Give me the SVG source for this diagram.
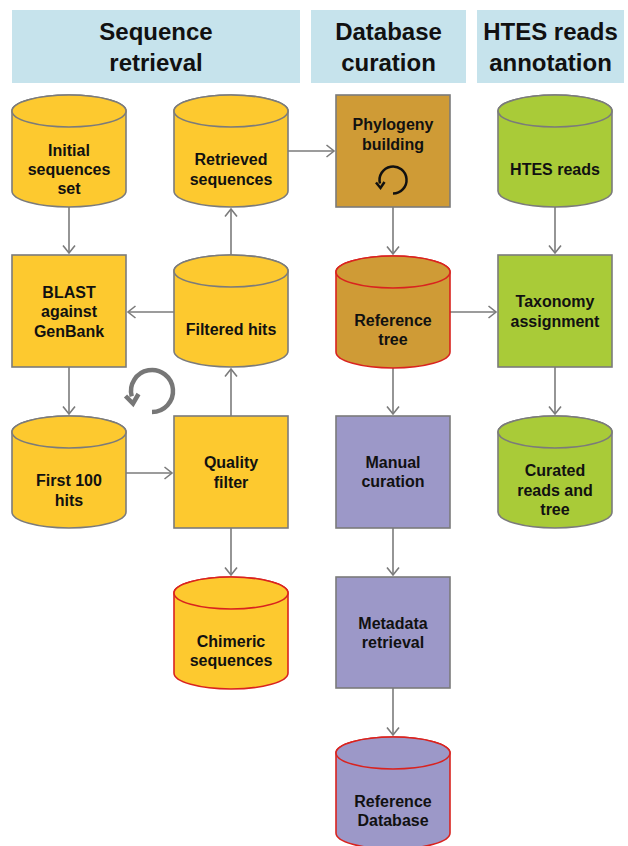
<svg xmlns="http://www.w3.org/2000/svg" width="628" height="846" viewBox="0 0 628 846">
<style>
  .hdr{fill:#c6e3ec}
  .htxt{font-family:"Liberation Sans",Arial,Helvetica,sans-serif;font-weight:bold;font-size:24px;fill:#111;text-anchor:middle}
  .t{font-family:"Liberation Sans",Arial,Helvetica,sans-serif;font-weight:bold;font-size:16px;fill:#111;text-anchor:middle}
  .yel{fill:#fdc92f}
  .brn{fill:#cf9b36}
  .pur{fill:#9c98c8}
  .grn{fill:#a9cb38}
  .sg{stroke:#7b7b7b;stroke-width:1.6}
  .sr{stroke:#d9231f;stroke-width:1.6}
  .conn{stroke:#7b7b7b;stroke-width:1.6;fill:none}
</style>
<defs>
  <marker id="ah" markerUnits="userSpaceOnUse" markerWidth="11" markerHeight="14" viewBox="0 0 11 14" refX="9" refY="7" orient="auto">
    <path d="M1.5,1 L9,7 L1.5,13" fill="none" stroke="#7b7b7b" stroke-width="1.6"/>
  </marker>
  <path id="cylBody" d="M0,16 V96 A57,16 0 0 0 114,96 V16 A57,16 0 0 0 0,16 Z"/>
</defs>

<g id="header-sequence-retrieval">
  <rect class="hdr" x="12" y="10" width="288" height="73"/>
  <text class="htxt" x="156" y="40">Sequence</text>
  <text class="htxt" x="156" y="71">retrieval</text>
</g>
<g id="header-database-curation">
  <rect class="hdr" x="311" y="10" width="155" height="73"/>
  <text class="htxt" x="388.5" y="40">Database</text>
  <text class="htxt" x="388.5" y="71">curation</text>
</g>
<g id="header-htes">
  <rect class="hdr" x="477" y="10" width="147" height="73"/>
  <text class="htxt" x="550.5" y="40">HTES reads</text>
  <text class="htxt" x="550.5" y="71">annotation</text>
</g>

<g id="connectors">
  <line class="conn" x1="69" y1="207" x2="69" y2="253" marker-end="url(#ah)"/>
  <line class="conn" x1="69" y1="367" x2="69" y2="414" marker-end="url(#ah)"/>
  <line class="conn" x1="126" y1="473" x2="172" y2="473" marker-end="url(#ah)"/>
  <line class="conn" x1="231" y1="416" x2="231" y2="369" marker-end="url(#ah)"/>
  <line class="conn" x1="174" y1="312" x2="128" y2="312" marker-end="url(#ah)"/>
  <line class="conn" x1="231" y1="255" x2="231" y2="209" marker-end="url(#ah)"/>
  <line class="conn" x1="288" y1="151" x2="334" y2="151" marker-end="url(#ah)"/>
  <line class="conn" x1="393" y1="207" x2="393" y2="254" marker-end="url(#ah)"/>
  <line class="conn" x1="450" y1="312" x2="496" y2="312" marker-end="url(#ah)"/>
  <line class="conn" x1="393" y1="368" x2="393" y2="414" marker-end="url(#ah)"/>
  <line class="conn" x1="393" y1="528" x2="393" y2="575" marker-end="url(#ah)"/>
  <line class="conn" x1="393" y1="688" x2="393" y2="735" marker-end="url(#ah)"/>
  <line class="conn" x1="555" y1="207" x2="555" y2="253" marker-end="url(#ah)"/>
  <line class="conn" x1="555" y1="367" x2="555" y2="414" marker-end="url(#ah)"/>
  <line class="conn" x1="231" y1="528" x2="231" y2="575" marker-end="url(#ah)"/>
</g>

<g id="loop-icon">
  <path d="M152,412 A21,21 0 1 0 131.7,396.4" fill="none" stroke="#777" stroke-width="4.5"/>
  <path d="M125.5,396 L133,403.5 L138.5,394" fill="none" stroke="#777" stroke-width="4.5" stroke-linejoin="miter"/>
</g>

<g id="initial-sequences-set" transform="translate(12,95)">
  <use href="#cylBody" class="yel sg"/>
  <ellipse cx="57" cy="16" rx="57" ry="16" class="yel sg"/>
  <text class="t" x="57" y="61">Initial</text>
  <text class="t" x="57" y="80">sequences</text>
  <text class="t" x="57" y="99">set</text>
</g>

<g id="retrieved-sequences" transform="translate(174,95)">
  <use href="#cylBody" class="yel sg"/>
  <ellipse cx="57" cy="16" rx="57" ry="16" class="yel sg"/>
  <text class="t" x="57" y="70">Retrieved</text>
  <text class="t" x="57" y="89.5">sequences</text>
</g>

<g id="blast" transform="translate(12,255)">
  <rect width="114" height="112" class="yel sg"/>
  <text class="t" x="57" y="42.5">BLAST</text>
  <text class="t" x="57" y="62">against</text>
  <text class="t" x="57" y="81.5">GenBank</text>
</g>

<g id="filtered-hits" transform="translate(174,255)">
  <use href="#cylBody" class="yel sg"/>
  <ellipse cx="57" cy="16" rx="57" ry="16" class="yel sg"/>
  <text class="t" x="57" y="79.5">Filtered hits</text>
</g>

<g id="first-100-hits" transform="translate(12,416)">
  <use href="#cylBody" class="yel sg"/>
  <ellipse cx="57" cy="16" rx="57" ry="16" class="yel sg"/>
  <text class="t" x="57" y="70">First 100</text>
  <text class="t" x="57" y="89.5">hits</text>
</g>

<g id="quality-filter" transform="translate(174,416)">
  <rect width="114" height="112" class="yel sg"/>
  <text class="t" x="57" y="52">Quality</text>
  <text class="t" x="57" y="71.5">filter</text>
</g>

<g id="chimeric-sequences" transform="translate(174,577)">
  <use href="#cylBody" class="yel sr"/>
  <ellipse cx="57" cy="16" rx="57" ry="16" class="yel sr"/>
  <text class="t" x="57" y="69.5">Chimeric</text>
  <text class="t" x="57" y="89">sequences</text>
</g>

<g id="phylogeny-building" transform="translate(336,95)">
  <rect width="114" height="112" class="brn sg"/>
  <text class="t" x="57" y="35">Phylogeny</text>
  <text class="t" x="57" y="54.5">building</text>
  <path d="M57,98.5 A13.5,13.5 0 1 0 44,88.5" fill="none" stroke="#111" stroke-width="2.5"/>
  <path d="M40,87.5 L44.5,93 L48.5,87" fill="none" stroke="#111" stroke-width="2.5"/>
</g>

<g id="reference-tree" transform="translate(336,256)">
  <use href="#cylBody" class="brn sr"/>
  <ellipse cx="57" cy="16" rx="57" ry="16" class="brn sr"/>
  <text class="t" x="57" y="69.5">Reference</text>
  <text class="t" x="57" y="89">tree</text>
</g>

<g id="manual-curation" transform="translate(336,416)">
  <rect width="114" height="112" class="pur sg"/>
  <text class="t" x="57" y="51.5">Manual</text>
  <text class="t" x="57" y="71">curation</text>
</g>

<g id="metadata-retrieval" transform="translate(336,577)">
  <rect width="114" height="111" class="pur sg"/>
  <text class="t" x="57" y="51.5">Metadata</text>
  <text class="t" x="57" y="71">retrieval</text>
</g>

<g id="reference-database" transform="translate(336,737)">
  <use href="#cylBody" class="pur sr"/>
  <ellipse cx="57" cy="16" rx="57" ry="16" class="pur sr"/>
  <text class="t" x="57" y="69.5">Reference</text>
  <text class="t" x="57" y="89">Database</text>
</g>

<g id="htes-reads" transform="translate(498,95)">
  <use href="#cylBody" class="grn sg"/>
  <ellipse cx="57" cy="16" rx="57" ry="16" class="grn sg"/>
  <text class="t" x="57" y="80">HTES reads</text>
</g>

<g id="taxonomy-assignment" transform="translate(498,255)">
  <rect width="114" height="112" class="grn sg"/>
  <text class="t" x="57" y="52">Taxonomy</text>
  <text class="t" x="57" y="71.5">assignment</text>
</g>

<g id="curated-reads-and-tree" transform="translate(498,416)">
  <use href="#cylBody" class="grn sg"/>
  <ellipse cx="57" cy="16" rx="57" ry="16" class="grn sg"/>
  <text class="t" x="57" y="60">Curated</text>
  <text class="t" x="57" y="79.5">reads and</text>
  <text class="t" x="57" y="99">tree</text>
</g>
</svg>
